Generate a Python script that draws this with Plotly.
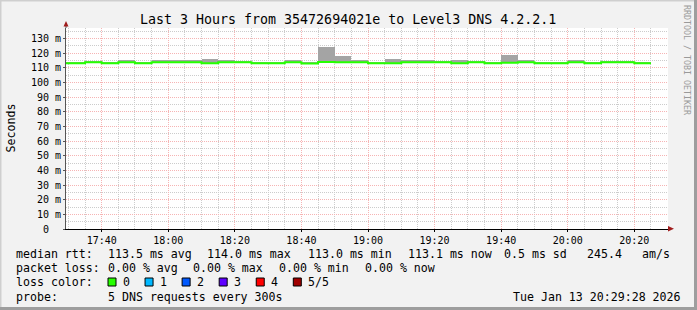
import plotly.graph_objects as go
import pandas as pd

# ---------------- data ----------------
slot_starts = ["17:25", "17:30", "17:35", "17:40", "17:45", "17:50", "17:55", "18:00", "18:05",
               "18:10", "18:15", "18:20", "18:25", "18:30", "18:35", "18:40", "18:45", "18:50",
               "18:55", "19:00", "19:05", "19:10", "19:15", "19:20", "19:25", "19:30", "19:35",
               "19:40", "19:45", "19:50", "19:55", "20:00", "20:05", "20:10", "20:15", "20:20"]
median_ms = [113.1, 113.1, 113.9, 113.1, 113.9, 113.1, 113.9, 113.9, 113.9,
             113.1, 113.9, 113.9, 113.1, 113.1, 113.9, 113.0, 114.0, 113.9,
             113.9, 113.1, 113.2, 113.8, 113.8, 113.8, 113.1, 113.8, 113.1,
             113.4, 113.9, 113.1, 113.1, 113.9, 113.1, 113.8, 113.8, 113.1]
smoke_max_ms = [113.6, 113.6, 114.6, 113.6, 115.1, 113.6, 115.1, 115.1, 115.1,
                115.9, 115.1, 114.6, 113.6, 113.6, 115.1, 113.5, 124.3, 118.0,
                115.2, 113.6, 115.8, 115.1, 115.1, 114.7, 115.4, 114.4, 113.6,
                118.7, 115.1, 113.6, 113.6, 115.1, 113.6, 114.4, 114.4, 113.6]
smoke_min_ms = [m - 0.3 for m in median_ms]
data_end = "20:25"

day = "2026-01-13"
x_start = day + " 17:29:17"
x_end = day + " 20:30:07"
x_tick0 = day + " 17:40:00"

y_tickvals = [0, 10, 20, 30, 40, 50, 60, 70, 80, 90, 100, 110, 120, 130]
y_ticktext = ["0  "] + [f"{v} m" for v in y_tickvals[1:]]
y_minorvals = [5, 15, 25, 35, 45, 55, 65, 75, 85, 95, 105, 115, 125, 135]

title_text = "Last 3 Hours from 35472694021e to Level3 DNS 4.2.2.1"
rtt_label = "median rtt:"
rtt_stats = ["113.5 ms avg", "114.0 ms max", "113.0 ms min", "113.1 ms now", "0.5 ms sd", "245.4", "am/s"]
loss_label = "packet loss:"
loss_stats = ["0.00 % avg", "0.00 % max", "0.00 % min", "0.00 % now"]
color_label = "loss color:"
loss_names = ["0", "1", "2", "3", "4", "5/5"]
loss_colors = ["#26ff00", "#00b8ff", "#0059ff", "#5e00ff", "#ff0000", "#a00000"]
probe_label = "probe:"
probe_text = "5 DNS requests every 300s"
stamp_text = "Tue Jan 13 20:29:28 2026"
side_text = "RRDTOOL / TOBI OETIKER"

# ---------------- geometry helpers ----------------
W, H = 697, 310
L, R, T, B = 66, 668, 28, 229


def px(xp):
    return (xp - L) / (R - L)


def py(yp):
    return (B - yp) / (B - T)


def txt(s, xp, yp, anchor="left", size=11.6, angle=0, color="#000000"):
    return dict(text=s.replace(" ", "\u00a0"), x=px(xp), y=py(yp), xref="paper", yref="paper",
                xanchor=anchor, yanchor="middle", showarrow=False, textangle=angle,
                font=dict(family="DejaVu Sans Mono", size=size, color=color),
                borderpad=0, borderwidth=0)


starts = pd.to_datetime([f"{day} {t}" for t in slot_starts])
centers = starts + pd.Timedelta(seconds=150)
line_x = list(starts) + [pd.Timestamp(f"{day} {data_end}")]
line_y = median_ms + [median_ms[-1]]

fig = go.Figure()
fig.add_trace(go.Bar(x=centers, y=[a - b for a, b in zip(smoke_max_ms, smoke_min_ms)],
                     base=smoke_min_ms, width=300000,
                     marker=dict(color="#a4a4a4", line=dict(width=0)), hoverinfo="skip"))
fig.add_trace(go.Scatter(x=line_x, y=line_y, mode="lines",
                         line=dict(color="#26ff00", width=2, shape="hv"), hoverinfo="skip"))

font_mono = "DejaVu Sans Mono"
major_grid = "#f6b4b4"
minor_grid = "#cccccc"
fig.update_layout(
    width=W, height=H, margin=dict(l=L, r=W - R, t=T, b=H - B, pad=0),
    paper_bgcolor="#f2f2f2", plot_bgcolor="#ffffff", showlegend=False, bargap=0,
    font=dict(family=font_mono, size=10, color="#000000"),
)
fig.update_xaxes(
    type="date", range=[x_start, x_end], tickmode="linear", tick0=x_tick0, dtick=1200000,
    tickformat="%H:%M", showgrid=True, gridcolor=major_grid, griddash="1px,1px", gridwidth=1,
    minor=dict(tick0=x_tick0, dtick=300000, showgrid=True, gridcolor=minor_grid, griddash="1px,1px", gridwidth=1),
    showline=True, linecolor="#000000", linewidth=1, ticks="outside", ticklen=2, tickcolor="#000000",
    tickfont=dict(family=font_mono, size=10), zeroline=False, fixedrange=True,
)
fig.update_yaxes(
    range=[0, 137.2], tickmode="array", tickvals=y_tickvals, ticktext=y_ticktext,
    showgrid=True, gridcolor=major_grid, griddash="1px,1px", gridwidth=1,
    minor=dict(tickmode="array", tickvals=y_minorvals, showgrid=True, gridcolor=minor_grid, griddash="1px,1px", gridwidth=1),
    showline=True, linecolor="#555555", linewidth=1, ticks="outside", ticklen=2, tickcolor="#555555",
    tickfont=dict(family=font_mono, size=10), zeroline=False, fixedrange=True,
)

ann = []
ann.append(txt(title_text, 348, 19, anchor="center", size=13.3))
ann.append(txt("Seconds", 10.5, 128, anchor="center", size=11.6, angle=-90))
ann.append(txt(side_text, 687, 60, anchor="center", size=8.3, angle=90, color="#9a9a9a"))

ann.append(txt(rtt_label, 16, 254))
for s, xp in zip(rtt_stats, [107.5, 207, 307.5, 408, 504, 586.5, 642]):
    ann.append(txt(s, xp, 254))
ann.append(txt(loss_label, 16, 268))
for s, xp in zip(loss_stats, [107.5, 193.3, 279, 365]):
    ann.append(txt(s, xp, 268))
ann.append(txt(color_label, 16, 281.7))
shapes = []
for i, (name, col) in enumerate(zip(loss_names, loss_colors)):
    bx = 108 + 37.06 * i
    shapes.append(dict(type="rect", xref="paper", yref="paper", x0=px(bx), x1=px(bx + 8),
                       y0=py(286), y1=py(278), fillcolor=col, line=dict(color="#000000", width=1)))
    ann.append(txt(name, bx + 15, 281.7))
ann.append(txt(probe_label, 16, 296.7))
ann.append(txt(probe_text, 107.5, 296.7))
ann.append(txt(stamp_text, 681, 296.7, anchor="right"))

# axis extensions and arrows
shapes.append(dict(type="line", xref="paper", yref="paper", x0=px(66), x1=px(66), y0=py(28), y1=py(25),
                   line=dict(color="#555555", width=1)))
shapes.append(dict(type="path", xref="paper", yref="paper",
                   path=f"M {px(63.5)},{py(26.5)} L {px(68.5)},{py(26.5)} L {px(66)},{py(21)} Z",
                   fillcolor="#a01c1c", line=dict(width=0)))
shapes.append(dict(type="path", xref="paper", yref="paper",
                   path=f"M {px(668)},{py(226)} L {px(668)},{py(231.5)} L {px(674)},{py(228.8)} Z",
                   fillcolor="#a01c1c", line=dict(width=0)))
# 3D frame
shapes.append(dict(type="line", xref="paper", yref="paper", x0=px(0), x1=px(697), y0=py(0.75), y1=py(0.75),
                   line=dict(color="#cfcfcf", width=1.5)))
shapes.append(dict(type="line", xref="paper", yref="paper", x0=px(0.75), x1=px(0.75), y0=py(0), y1=py(310),
                   line=dict(color="#cfcfcf", width=1.5)))
shapes.append(dict(type="line", xref="paper", yref="paper", x0=px(695.5), x1=px(695.5), y0=py(0), y1=py(310),
                   line=dict(color="#9e9e9e", width=3)))
shapes.append(dict(type="line", xref="paper", yref="paper", x0=px(0), x1=px(697), y0=py(308.5), y1=py(308.5),
                   line=dict(color="#9e9e9e", width=3)))

fig.update_layout(annotations=ann, shapes=shapes)
fig.write_html("out.html", config={"displayModeBar": False})
